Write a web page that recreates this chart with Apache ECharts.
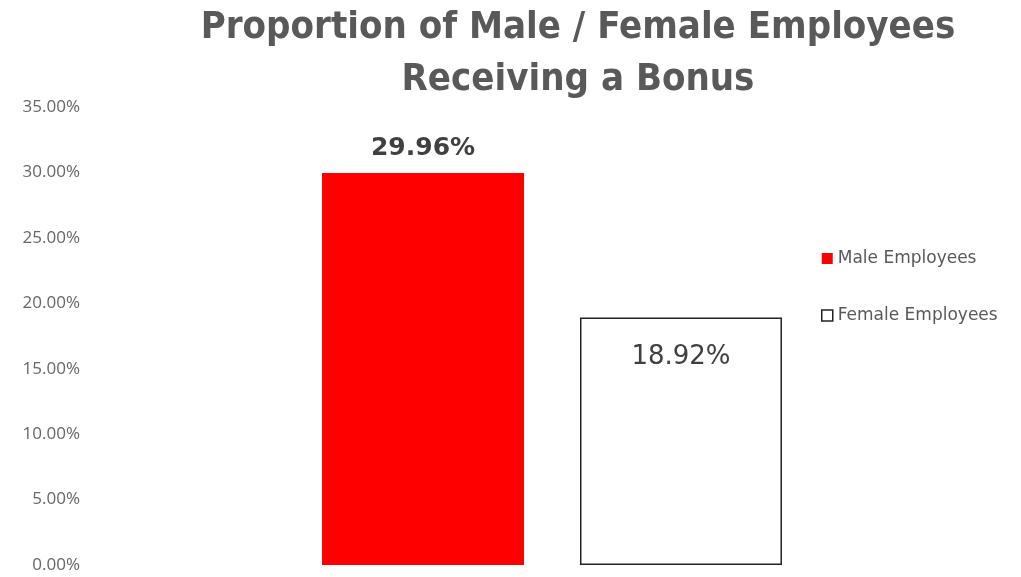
<!DOCTYPE html>
<html>
<head>
<meta charset="utf-8">
<script src="https://cdn.jsdelivr.net/npm/echarts@6/dist/echarts.min.js"></script>
<style>html,body{margin:0;padding:0;background:#fff}#c{width:1021px;height:577px}</style>
</head>
<body>
<div id="c"></div>
<script>
const categories = ['Bonus'];
const maleValues = [29.96];
const femaleValues = [18.92];
const seriesNames = ['Male Employees', 'Female Employees'];

const chart = echarts.init(document.getElementById('c'));
chart.setOption({
  animation: false,
  backgroundColor: '#fff',
  title: {
    text: 'Proportion of Male / Female Employees\nReceiving a Bonus',
    left: 573, top: -3, textAlign: 'center',
    textStyle: {
      fontFamily: '"Liberation Sans Narrow", "DejaVu Sans Condensed", sans-serif',
      fontWeight: 'bold', fontSize: 38, color: '#595959', lineHeight: 52
    }
  },
  legend: {
    orient: 'vertical', left: 816, top: 245,
    itemWidth: 11, itemHeight: 11, itemGap: 40,
    textStyle: { fontFamily: '"DejaVu Sans", sans-serif', fontSize: 17, color: '#595959' },
    data: [
      { name: seriesNames[0], icon: 'rect', itemStyle: { color: '#ff0000', borderWidth: 0 } },
      { name: seriesNames[1], icon: 'rect', itemStyle: { color: '#fff', borderColor: '#222', borderWidth: 1.5 } }
    ]
  },
  grid: { left: 90, right: 7, top: 107, bottom: 12 },
  xAxis: {
    type: 'category', data: categories,
    axisLine: { show: false }, axisTick: { show: false }, axisLabel: { show: false }
  },
  yAxis: {
    type: 'value', min: 0, max: 35, interval: 5,
    splitLine: { show: false }, axisLine: { show: false }, axisTick: { show: false },
    axisLabel: {
      formatter: v => v.toFixed(2) + '%', margin: 10,
      fontFamily: '"Open Sans", "Noto Sans", sans-serif', fontSize: 17, color: '#666666'
    }
  },
  series: [
    {
      name: seriesNames[0], type: 'bar', data: maleValues, barWidth: 202, barGap: '27.7%',
      itemStyle: { color: '#ff0000' },
      label: {
        show: true, position: 'top', distance: 12, formatter: p => p.value.toFixed(2) + '%',
        fontFamily: '"DejaVu Sans", sans-serif', fontWeight: 'bold', fontSize: 25, color: '#404040'
      }
    },
    {
      name: seriesNames[1], type: 'bar', data: femaleValues, barWidth: 202,
      itemStyle: { color: '#fff', borderColor: '#222', borderWidth: 1.5 },
      label: {
        show: true, position: 'insideTop', distance: 27, formatter: p => p.value.toFixed(2) + '%',
        fontFamily: '"DejaVu Sans", sans-serif', fontSize: 26, color: '#404040'
      }
    }
  ]
});
</script>
</body>
</html>
